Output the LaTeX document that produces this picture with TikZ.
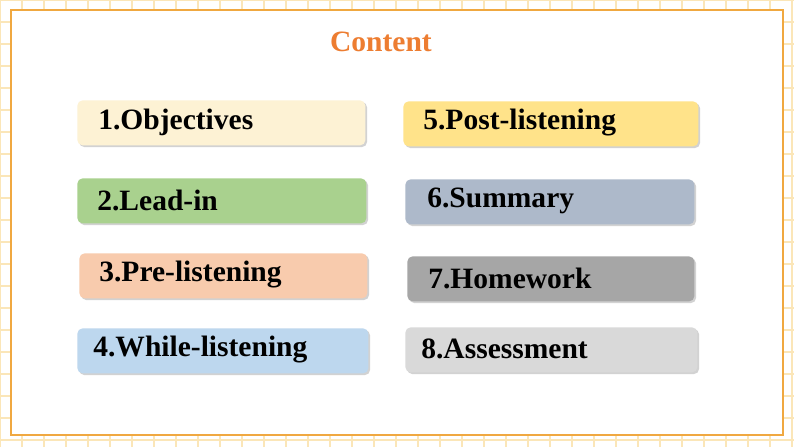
\documentclass[tikz,border=0pt]{standalone}
\usepackage{fontspec}
\setmainfont{Liberation Serif}
\usetikzlibrary{positioning,shadows}
\definecolor{frameorange}{HTML}{F0A840}
\definecolor{gridyellow}{HTML}{FBE6B8}
\definecolor{titleorange}{HTML}{ED7D31}
\tikzset{item/.style={rounded corners=3, minimum height=45*0.02cm, anchor=north west, inner sep=0pt, drop shadow={shadow xshift=1pt, shadow yshift=-1pt, opacity=0.35}}}
\tikzset{itemtext/.style={anchor=west, font=\bfseries\fontsize{16.8}{19}\selectfont, inner sep=0pt}}
\begin{document}
\begin{tikzpicture}[x=0.02cm,y=-0.02cm]
		\useasboundingbox (0,0) rectangle (794,447);
		\fill[white] (0,0) rectangle (794,447);
		\draw[gridyellow, line width=0.6pt, step=22*0.02cm] (0,0) grid (794,447);
		\fill[white] (11,10) rectangle (783,435);
		\draw[frameorange, line width=1.5pt] (11,10) rectangle (783,435);
		
		\node[font=\bfseries\fontsize{16.8}{19}\selectfont, text=titleorange] (title) at (381,42){Content};
		
		% left column
		\node[item, fill={rgb,255:red,253;green,242;blue,212}, minimum width=288*0.02cm] (b1) at (77,100){};
		\node[itemtext] (t1) at (98,122){1.Objectives};
		\node[item, fill={rgb,255:red,169;green,209;blue,142}, minimum width=289*0.02cm] (b2) at (77,178){};
		\node[itemtext] (t2) at (97,200){2.Lead-in};
		\node[item, fill={rgb,255:red,248;green,203;blue,173}, minimum width=288*0.02cm] (b3) at (79,253){};
		\node[itemtext] (t3) at (99,275){3.Pre-listening};
		\node[item, fill={rgb,255:red,189;green,215;blue,238}, minimum width=291*0.02cm] (b4) at (77,328){};
		\node[itemtext] (t4) at (93,350){4.While-listening};
		
		% right column
		\node[item, fill={rgb,255:red,255;green,227;blue,138}, minimum width=295*0.02cm] (b5) at (403,101){};
		\node[itemtext] (t5) at (423,123){5.Post-listening};
		\node[item, fill={rgb,255:red,173;green,185;blue,202}, minimum width=289*0.02cm] (b6) at (405,179){};
		\node[itemtext] (t6) at (427,201){6.Summary};
		\node[item, fill={rgb,255:red,166;green,166;blue,166}, minimum width=287*0.02cm] (b7) at (407,256){};
		\node[itemtext] (t7) at (428,278){7.Homework};
		\node[item, fill={rgb,255:red,217;green,217;blue,217}, minimum width=292*0.02cm] (b8) at (405,327){};
		\node[itemtext] (t8) at (421,349){8.Assessment};
	\end{tikzpicture}
\end{document}
